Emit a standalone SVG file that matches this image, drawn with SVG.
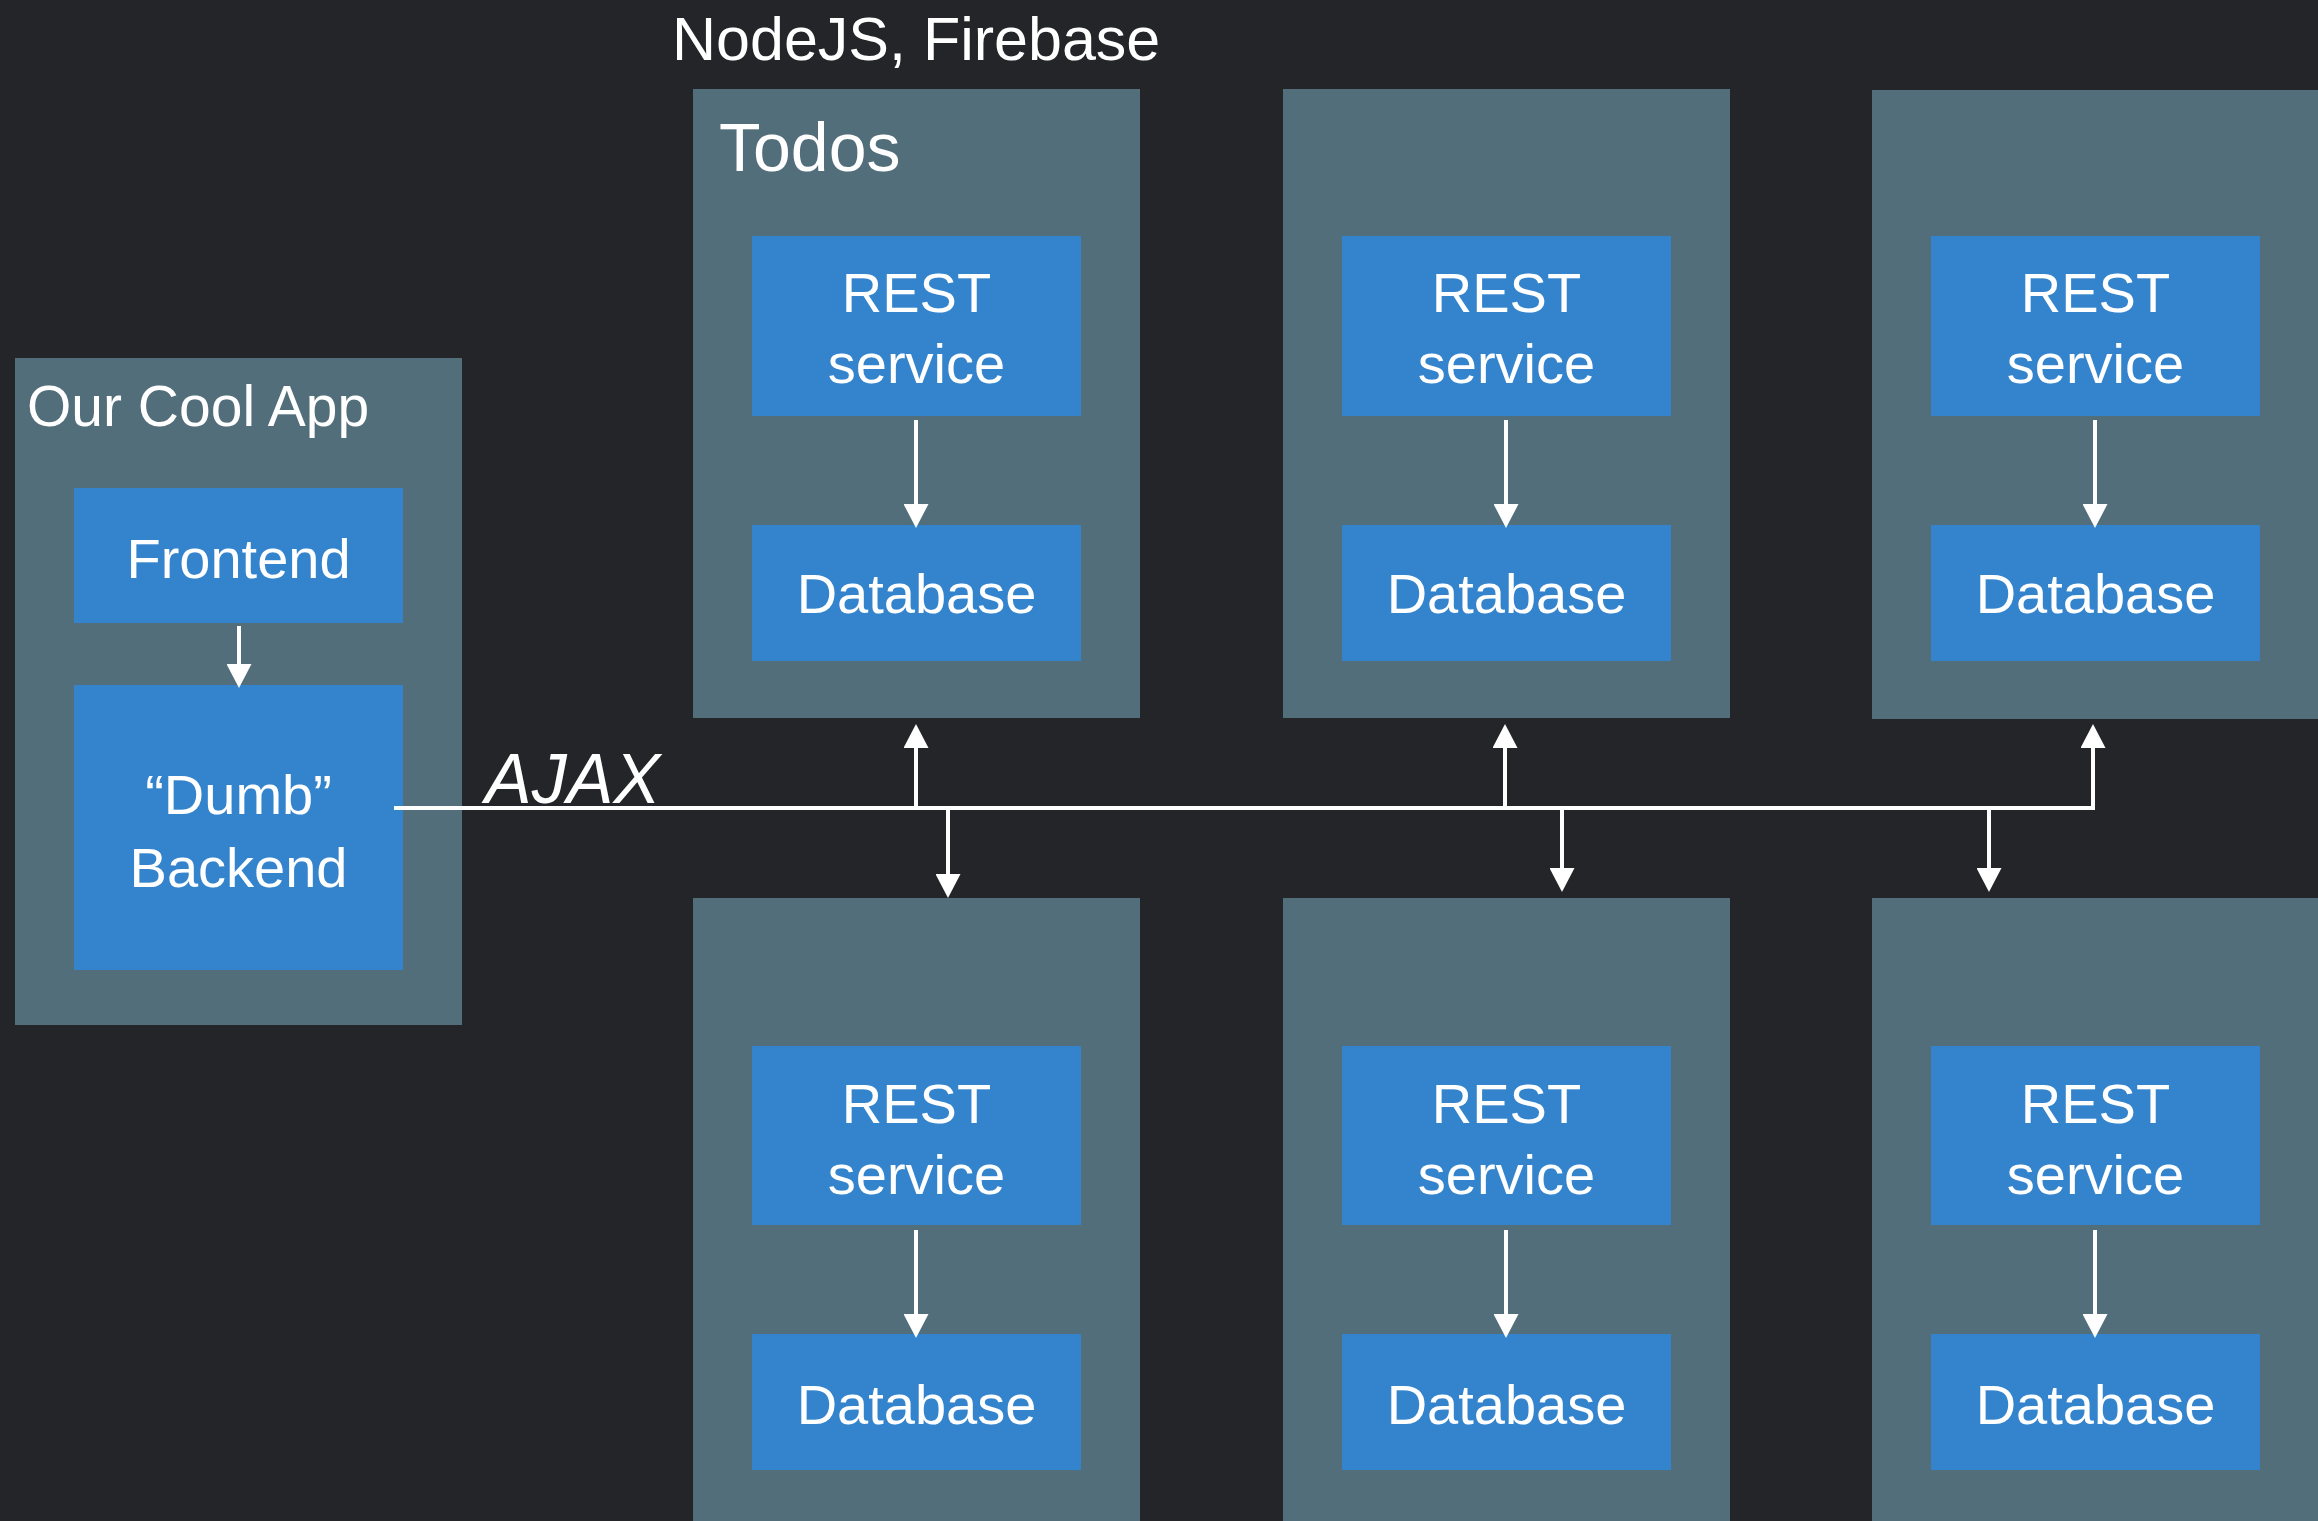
<svg xmlns="http://www.w3.org/2000/svg" width="2318" height="1521" viewBox="0 0 2318 1521">
<defs>
<style>
.bg{fill:#232528}
.cont{fill:#526e7b}
.box{fill:#3484cd}
text{fill:#ffffff;font-family:"Liberation Sans",Arial,sans-serif}
.lbl{font-size:56px;text-anchor:middle}
.ttl{font-size:57px}
.edge{stroke:#ffffff;stroke-width:4;fill:none}
</style>
<marker id="ah" viewBox="0 0 24 25" refX="0" refY="12.5" markerWidth="24" markerHeight="25" markerUnits="userSpaceOnUse" orient="auto">
<path d="M0,0 L24,12.5 L0,25 z" fill="#ffffff"/>
</marker>
</defs>
<rect class="bg" x="0" y="0" width="2318" height="1521"/>
<text x="672" y="60" style="font-size:61px">NodeJS, Firebase</text>

<g id="app">
<rect class="cont" x="15" y="358" width="447" height="667"/>
<text class="ttl" x="27" y="426">Our Cool App</text>
</g>
<g id="frontend">
<rect class="box" x="74" y="488" width="329" height="135"/>
<text class="lbl" x="238.5" y="578">Frontend</text>
</g>
<g id="backend">
<rect class="box" x="74" y="685" width="329" height="285"/>
<text class="lbl" x="238.5" y="814">“Dumb”</text>
<text class="lbl" x="238.5" y="887">Backend</text>
</g>

<g id="todos">
<rect class="cont" x="693" y="89" width="447" height="629"/>
<text x="719" y="171" style="font-size:68px">Todos</text>
</g>
<g id="svc2"><rect class="cont" x="1283" y="89" width="447" height="629"/></g>
<g id="svc3"><rect class="cont" x="1872" y="90" width="447" height="629"/></g>
<g id="svc4"><rect class="cont" x="693" y="898" width="447" height="640"/></g>
<g id="svc5"><rect class="cont" x="1283" y="898" width="447" height="640"/></g>
<g id="svc6"><rect class="cont" x="1872" y="898" width="447" height="640"/></g>

<g id="rest1"><rect class="box" x="752" y="236" width="329" height="180"/><text class="lbl" x="916.5" y="312">REST</text><text class="lbl" x="916.5" y="383">service</text></g>
<g id="db1"><rect class="box" x="752" y="525" width="329" height="136"/><text class="lbl" x="916.5" y="613">Database</text></g>
<g id="rest2"><rect class="box" x="1342" y="236" width="329" height="180"/><text class="lbl" x="1506.5" y="312">REST</text><text class="lbl" x="1506.5" y="383">service</text></g>
<g id="db2"><rect class="box" x="1342" y="525" width="329" height="136"/><text class="lbl" x="1506.5" y="613">Database</text></g>
<g id="rest3"><rect class="box" x="1931" y="236" width="329" height="180"/><text class="lbl" x="2095.5" y="312">REST</text><text class="lbl" x="2095.5" y="383">service</text></g>
<g id="db3"><rect class="box" x="1931" y="525" width="329" height="136"/><text class="lbl" x="2095.5" y="613">Database</text></g>

<g id="rest4"><rect class="box" x="752" y="1046" width="329" height="179"/><text class="lbl" x="916.5" y="1123">REST</text><text class="lbl" x="916.5" y="1194">service</text></g>
<g id="db4"><rect class="box" x="752" y="1334" width="329" height="136"/><text class="lbl" x="916.5" y="1424">Database</text></g>
<g id="rest5"><rect class="box" x="1342" y="1046" width="329" height="179"/><text class="lbl" x="1506.5" y="1123">REST</text><text class="lbl" x="1506.5" y="1194">service</text></g>
<g id="db5"><rect class="box" x="1342" y="1334" width="329" height="136"/><text class="lbl" x="1506.5" y="1424">Database</text></g>
<g id="rest6"><rect class="box" x="1931" y="1046" width="329" height="179"/><text class="lbl" x="2095.5" y="1123">REST</text><text class="lbl" x="2095.5" y="1194">service</text></g>
<g id="db6"><rect class="box" x="1931" y="1334" width="329" height="136"/><text class="lbl" x="2095.5" y="1424">Database</text></g>

<g id="connectors">
<line class="edge" x1="239" y1="626" x2="239" y2="664" marker-end="url(#ah)"/>
<line class="edge" x1="916" y1="420" x2="916" y2="504" marker-end="url(#ah)"/>
<line class="edge" x1="1506" y1="420" x2="1506" y2="504" marker-end="url(#ah)"/>
<line class="edge" x1="2095" y1="420" x2="2095" y2="504" marker-end="url(#ah)"/>
<line class="edge" x1="916" y1="1230" x2="916" y2="1314" marker-end="url(#ah)"/>
<line class="edge" x1="1506" y1="1230" x2="1506" y2="1314" marker-end="url(#ah)"/>
<line class="edge" x1="2095" y1="1230" x2="2095" y2="1314" marker-end="url(#ah)"/>
<path class="edge" d="M394,808 H2093 V748" marker-end="url(#ah)"/>
<line class="edge" x1="916" y1="808" x2="916" y2="748" marker-end="url(#ah)"/>
<line class="edge" x1="1505" y1="808" x2="1505" y2="748" marker-end="url(#ah)"/>
<line class="edge" x1="948" y1="808" x2="948" y2="874" marker-end="url(#ah)"/>
<line class="edge" x1="1562" y1="808" x2="1562" y2="868" marker-end="url(#ah)"/>
<line class="edge" x1="1989" y1="808" x2="1989" y2="868" marker-end="url(#ah)"/>
<text x="485" y="803" style="font-size:70px;font-style:italic">AJAX</text>
</g>
</svg>
